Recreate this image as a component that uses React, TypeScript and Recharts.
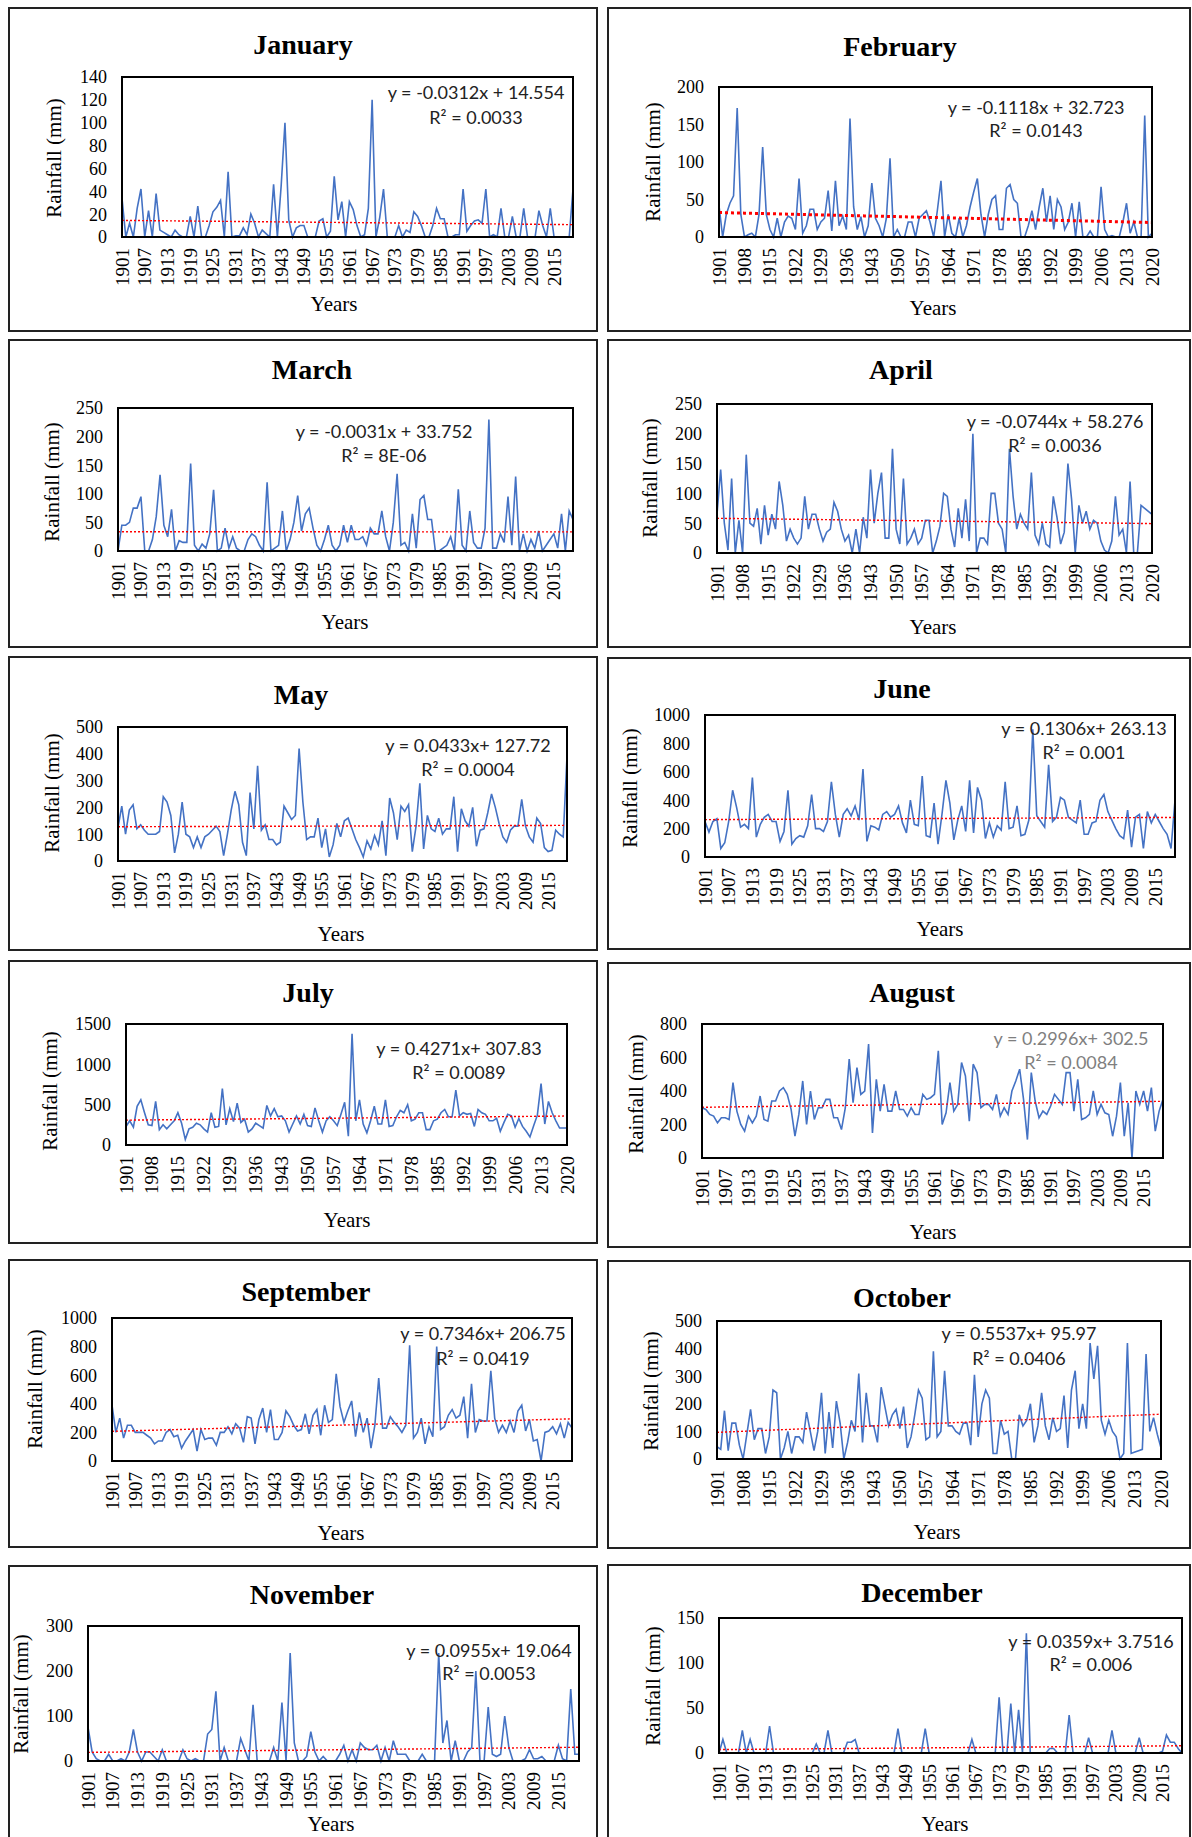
import { LineChart, Line, XAxis, YAxis } from "recharts";

const years = Array.from({ length: 120 }, (_, i) => 1901 + i);

const ticksBy6 = [1901, 1907, 1913, 1919, 1925, 1931, 1937, 1943, 1949, 1955, 1961, 1967, 1973, 1979, 1985, 1991, 1997, 2003, 2009, 2015];
const ticksBy7 = [1901, 1908, 1915, 1922, 1929, 1936, 1943, 1950, 1957, 1964, 1971, 1978, 1985, 1992, 1999, 2006, 2013, 2020];

const january = [
  34, 0, 12, 0, 25, 42, 0, 23, 0, 38,
  6, 4, 2, 0, 6, 2, 0, 0, 18, 0,
  27, 0, 0, 10, 22, 26, 32, 0, 57, 0,
  1, 1, 8, 2, 20, 12, 0, 6, 3, 0,
  46, 0, 45, 100, 15, 0, 8, 10, 10, 0,
  0, 0, 14, 16, 0, 5, 53, 15, 31, 0,
  31, 24, 10, 0, 2, 25, 120, 0, 17, 42,
  0, 0, 0, 10, 0, 6, 4, 22, 18, 10,
  0, 0, 10, 25, 16, 16, 0, 0, 2, 2,
  42, 5, 10, 14, 15, 12, 42, 0, 2, 0,
  25, 0, 0, 18, 0, 0, 25, 0, 0, 0,
  23, 10, 0, 25, 0, 0, 0, 0, 0, 42,
];
const february = [
  42, 0, 30, 45, 55, 172, 30, 0, 3, 5,
  0, 30, 120, 30, 10, 0, 25, 0, 20, 28,
  25, 10, 78, 5, 15, 37, 37, 10, 20, 25,
  62, 8, 75, 15, 28, 10, 158, 40, 10, 27,
  0, 15, 72, 25, 15, 0, 25, 105, 0, 10,
  0, 0, 20, 20, 0, 25, 30, 35, 20, 0,
  35, 75, 0, 30, 5, 0, 25, 0, 15, 40,
  60, 78, 30, 0, 30, 50, 55, 10, 10, 65,
  70, 50, 45, 0, 0, 15, 35, 10, 40, 65,
  20, 55, 10, 50, 40, 10, 20, 45, 0, 47,
  0, 0, 8, 0, 0, 67, 10, 0, 2, 0,
  0, 20, 45, 5, 20, 0, 0, 162, 0, 5,
];
const march = [
  0, 45, 45, 50, 75, 75, 95, 0, 0, 20,
  60, 133, 45, 25, 73, 0, 18, 15, 15, 153,
  10, 0, 12, 5, 30, 107, 0, 5, 40, 5,
  25, 5, 0, 0, 20, 30, 25, 10, 0, 120,
  0, 5, 10, 70, 0, 20, 50, 97, 35, 65,
  75, 40, 10, 0, 20, 45, 10, 0, 10, 45,
  15, 45, 20, 20, 25, 10, 40, 30, 30, 70,
  25, 0, 50, 135, 10, 15, 0, 65, 5, 90,
  97, 55, 55, 0, 0, 5, 10, 25, 0, 108,
  10, 0, 70, 15, 5, 5, 40, 230, 5, 5,
  30, 15, 95, 10, 130, 0, 30, 0, 20, 5,
  35, 0, 10, 20, 30, 5, 65, 0, 70, 55,
];
const april = [
  65, 140, 50, 5, 125, 0, 55, 0, 165, 50,
  45, 75, 15, 80, 30, 65, 40, 120, 80, 20,
  40, 25, 15, 25, 95, 40, 65, 65, 40, 20,
  35, 40, 85, 70, 40, 20, 30, 0, 40, 0,
  60, 25, 140, 50, 100, 135, 25, 25, 175, 40,
  15, 125, 15, 25, 40, 15, 25, 55, 55, 0,
  20, 45, 100, 95, 40, 10, 75, 25, 90, 20,
  200, 0, 25, 25, 15, 100, 100, 50, 40, 0,
  175, 95, 40, 65, 50, 40, 135, 30, 15, 50,
  15, 10, 95, 60, 15, 35, 150, 90, 0, 80,
  50, 70, 40, 55, 50, 20, 5, 0, 20, 95,
  30, 40, 0, 120, 0, 0, 80, 75, 70, 65,
];
const may = [
  125, 205, 100, 190, 210, 120, 135, 115, 100, 100,
  100, 110, 240, 220, 170, 30, 100, 220, 100, 90,
  50, 90, 50, 90, 100, 115, 130, 110, 20, 100,
  190, 260, 210, 70, 20, 255, 120, 355, 115, 135,
  80, 80, 60, 70, 205, 180, 155, 170, 420, 220,
  80, 90, 90, 160, 50, 120, 15, 60, 140, 90,
  150, 160, 120, 80, 50, 15, 75, 45, 95, 60,
  150, 20, 235, 180, 80, 205, 185, 210, 35, 130,
  290, 45, 170, 120, 110, 160, 100, 120, 120, 240,
  35, 195, 150, 130, 200, 55, 115, 120, 180, 250,
  200, 140, 90, 70, 115, 130, 130, 230, 130, 90,
  70, 160, 140, 50, 35, 40, 115, 100, 90, 390,
];
const june = [
  250, 175, 250, 270, 60, 100, 250, 470, 350, 210,
  230, 200, 560, 140, 230, 280, 300, 250, 250, 110,
  180, 470, 90, 130, 150, 140, 220, 440, 200, 200,
  180, 250, 530, 300, 140, 300, 340, 290, 360, 260,
  620, 110, 220, 210, 190, 300, 320, 280, 300, 360,
  240, 170, 400, 230, 220, 570, 150, 140, 380, 90,
  300, 540, 380, 120, 260, 360, 180, 540, 170, 490,
  400, 130, 240, 140, 220, 190, 530, 200, 210, 360,
  150, 160, 260, 900, 290, 250, 210, 650, 250, 280,
  420, 400, 280, 260, 240, 400, 160, 160, 240, 250,
  400, 440, 320, 260, 200, 150, 130, 330, 70, 280,
  300, 60, 320, 240, 300, 250, 200, 160, 60, 400,
];
const july = [
  230, 300, 220, 480, 560, 400, 250, 240, 540, 190,
  250, 200, 250, 300, 400, 270, 70, 200, 220, 270,
  250, 200, 160, 400, 220, 230, 700, 250, 450, 290,
  520, 280, 320, 160, 200, 270, 240, 210, 490, 360,
  450, 350, 360, 300, 160, 260, 360, 260, 380, 240,
  230, 460, 300, 160, 300, 350, 300, 240, 380, 530,
  110, 1380, 300, 560, 260, 150, 300, 480, 260, 260,
  560, 230, 240, 350, 430, 400, 500, 300, 320, 400,
  400, 190, 190, 300, 320, 400, 440, 350, 350, 680,
  360, 400, 380, 390, 230, 440, 400, 380, 300, 300,
  330, 170, 280, 380, 360, 220, 330, 230, 170, 100,
  240, 370, 760, 260, 540, 400, 300, 210, 210, 210,
];
const august = [
  300, 290, 260, 250, 210, 240, 240, 230, 450, 280,
  200, 160, 250, 210, 250, 370, 230, 220, 340, 340,
  400, 420, 380, 290, 130, 260, 460, 200, 400, 230,
  300, 300, 350, 350, 240, 240, 170, 300, 590, 330,
  540, 380, 400, 680, 150, 470, 280, 440, 280, 280,
  400, 290, 290, 250, 300, 260, 260, 380, 350, 360,
  380, 640, 200, 270, 450, 280, 320, 570, 490, 220,
  560, 510, 300, 320, 320, 290, 380, 250, 300, 260,
  400, 460, 530, 350, 110, 510, 340, 240, 280, 260,
  310, 380, 350, 320, 510, 510, 280, 470, 230, 240,
  260, 400, 260, 320, 270, 260, 130, 250, 450, 130,
  330, 0, 400, 320, 400, 280, 420, 160, 280, 350,
];
const september = [
  390, 200, 300, 160, 250, 250, 200, 200, 200, 180,
  160, 120, 140, 140, 200, 220, 170, 180, 90, 140,
  180, 220, 70, 220, 150, 160, 160, 110, 200, 200,
  240, 190, 260, 230, 130, 310, 300, 120, 290, 370,
  200, 360, 150, 150, 200, 350, 310, 250, 210, 220,
  330, 190, 320, 360, 180, 390, 270, 290, 610, 380,
  270, 350, 420, 170, 340, 200, 300, 90, 250, 580,
  230, 230, 310, 270, 240, 200, 250, 810, 160, 200,
  300, 120, 240, 170, 800, 220, 240, 320, 360, 300,
  320, 450, 160, 540, 200, 290, 280, 280, 630, 300,
  200, 250, 200, 280, 200, 350, 390, 210, 290, 140,
  150, 0, 200, 210, 240, 190, 260, 160, 270, 230,
];
const october = [
  45, 35, 175, 30, 130, 130, 50, 0, 90, 180,
  70, 110, 110, 20, 80, 250, 240, 0, 40, 100,
  20, 80, 80, 60, 170, 100, 30, 100, 240, 20,
  170, 40, 210, 130, 0, 60, 140, 100, 310, 60,
  240, 120, 120, 60, 260, 190, 120, 160, 180, 110,
  190, 40, 80, 160, 250, 220, 70, 80, 390, 80,
  100, 320, 120, 120, 100, 90, 130, 130, 50, 305,
  80, 200, 250, 220, 20, 20, 140, 90, 100, 0,
  0, 160, 120, 140, 200, 60, 120, 240, 120, 70,
  150, 100, 110, 230, 40, 250, 320, 110, 200, 110,
  420, 290, 410, 140, 90, 140, 100, 80, 0, 20,
  420, 20, 25, 30, 35, 380, 100, 150, 90, 40,
];
const november = [
  75, 20, 5, 0, 0, 15, 0, 0, 5, 0,
  20, 70, 20, 0, 20, 20, 10, 0, 25, 0,
  0, 0, 0, 25, 5, 0, 5, 0, 0, 60,
  70, 155, 0, 30, 0, 0, 0, 50, 25, 0,
  125, 0, 0, 0, 0, 30, 0, 130, 0, 240,
  40, 0, 0, 10, 65, 20, 0, 10, 0, 0,
  0, 15, 35, 0, 25, 0, 40, 30, 25, 25,
  35, 0, 30, 0, 45, 15, 15, 15, 0, 0,
  0, 15, 0, 0, 0, 240, 40, 90, 0, 45,
  0, 0, 20, 30, 200, 0, 0, 120, 15, 10,
  15, 100, 30, 0, 0, 0, 5, 25, 5, 5,
  10, 0, 0, 0, 35, 5, 0, 160, 15, 15,
];
const december = [
  0, 15, 0, 0, 0, 0, 25, 0, 15, 0,
  0, 0, 0, 30, 0, 0, 0, 0, 0, 0,
  0, 0, 0, 0, 0, 10, 0, 0, 25, 0,
  0, 0, 0, 12, 12, 15, 0, 0, 0, 0,
  0, 0, 0, 0, 0, 0, 27, 0, 0, 0,
  0, 0, 0, 27, 0, 0, 0, 0, 0, 0,
  0, 0, 0, 0, 0, 15, 0, 0, 0, 0,
  0, 0, 62, 0, 0, 55, 0, 48, 0, 133,
  0, 0, 0, 0, 0, 5, 5, 0, 0, 0,
  42, 0, 0, 0, 0, 17, 0, 0, 0, 0,
  0, 25, 0, 0, 0, 0, 0, 0, 17, 0,
  0, 0, 0, 0, 2, 20, 12, 12, 5, 0,
];

// trendline coefficients as printed on each chart (x = 1..120)
const slopes = [-0.0312, -0.1118, -0.0031, -0.0744, 0.0433, 0.1306, 0.4271, 0.2996, 0.7346, 0.5537, 0.0955, 0.0359];
const intercepts = [14.554, 32.723, 33.752, 58.276, 127.72, 263.13, 307.83, 302.5, 206.75, 95.97, 19.064, 3.7516];
const equations = [
  "y = -0.0312x + 14.554", "y = -0.1118x + 32.723", "y = -0.0031x + 33.752", "y = -0.0744x + 58.276",
  "y = 0.0433x+ 127.72", "y = 0.1306x+ 263.13", "y = 0.4271x+ 307.83", "y = 0.2996x+ 302.5",
  "y = 0.7346x+ 206.75", "y = 0.5537x+ 95.97", "y = 0.0955x+ 19.064", "y = 0.0359x+ 3.7516",
];
const rSquared = ["R² = 0.0033", "R² = 0.0143", "R² = 8E-06", "R² = 0.0036", "R² = 0.0004", "R² = 0.001", "R² = 0.0089", "R² = 0.0084", "R² = 0.0419", "R² = 0.0406", "R² = 0.0053", "R² = 0.006"];

const months = ["January", "February", "March", "April", "May", "June", "July", "August", "September", "October", "November", "December"];
const series = [january, february, march, april, may, june, july, august, september, october, november, december];
const yTicks = [
  [0, 20, 40, 60, 80, 100, 120, 140],
  [0, 50, 100, 150, 200],
  [0, 50, 100, 150, 200, 250],
  [0, 50, 100, 150, 200, 250],
  [0, 100, 200, 300, 400, 500],
  [0, 200, 400, 600, 800, 1000],
  [0, 500, 1000, 1500],
  [0, 200, 400, 600, 800],
  [0, 200, 400, 600, 800, 1000],
  [0, 100, 200, 300, 400, 500],
  [0, 100, 200, 300],
  [0, 50, 100, 150],
];
const xTicks = [ticksBy6, ticksBy7, ticksBy6, ticksBy7, ticksBy6, ticksBy6, ticksBy7, ticksBy6, ticksBy6, ticksBy7, ticksBy6, ticksBy6];

// layout: box [l,t,w,h], plot [l,t,w,h], title [cx,cy], years [cx,cy], rain [cx,cy], eq [cx,y1,y2]
const layout = [
  { box: [8, 7, 590, 325], plot: [122, 77, 451, 160], title: [303, 45], years: [334, 304], rain: [54, 158], eq: [476, 92, 117] },
  { box: [607, 7, 584, 325], plot: [719, 87, 433, 150], title: [900, 47], years: [933, 308], rain: [653, 162], eq: [1036, 107, 130] },
  { box: [8, 339, 590, 309], plot: [118, 408, 455, 143], title: [312, 370], years: [345, 622], rain: [52, 482], eq: [384, 431, 455] },
  { box: [607, 339, 584, 309], plot: [717, 404, 435, 149], title: [901, 370], years: [933, 627], rain: [650, 478], eq: [1055, 421, 445] },
  { box: [8, 656, 590, 295], plot: [118, 727, 449, 134], title: [301, 695], years: [341, 934], rain: [52, 793], eq: [468, 745, 769] },
  { box: [607, 657, 584, 293], plot: [705, 715, 470, 142], title: [902, 689], years: [940, 929], rain: [630, 788], eq: [1084, 728, 752] },
  { box: [8, 960, 590, 284], plot: [126, 1024, 441, 121], title: [308, 993], years: [347, 1220], rain: [50, 1091], eq: [459, 1048, 1072] },
  { box: [607, 962, 584, 286], plot: [702, 1024, 461, 134], title: [912, 993], years: [933, 1232], rain: [636, 1094], eq: [1071, 1038, 1062] },
  { box: [8, 1259, 590, 289], plot: [112, 1318, 460, 143], title: [306, 1292], years: [341, 1533], rain: [35, 1389], eq: [483, 1333, 1358] },
  { box: [607, 1260, 584, 289], plot: [717, 1321, 444, 138], title: [902, 1298], years: [937, 1532], rain: [651, 1391], eq: [1019, 1333, 1358] },
  { box: [8, 1565, 590, 300], plot: [88, 1626, 491, 135], title: [312, 1595], years: [331, 1824], rain: [21, 1694], eq: [489, 1650, 1673] },
  { box: [607, 1564, 584, 300], plot: [719, 1618, 463, 135], title: [922, 1593], years: [945, 1824], rain: [653, 1686], eq: [1091, 1641, 1664] },
];

const serif = "'Liberation Serif', 'Times New Roman', serif";
const sans = "Lato, 'Open Sans', sans-serif";

const YearTick = (props: any) => {
  const { x, y, payload } = props;
  return (
    <text x={x} y={y} transform={`rotate(-90, ${x}, ${y})`} textAnchor="end" dominantBaseline="central"
      fontFamily={serif} fontSize={19} fill="#000">
      {payload.value}
    </text>
  );
};

const centered = (cx: number, cy: number) => ({
  position: "absolute" as const,
  left: cx,
  top: cy,
  transform: "translate(-50%, -50%)",
  whiteSpace: "nowrap" as const,
  lineHeight: 1,
});

const ML = 80, MT = 10, MR = 10, MB = 80;

const Panel = ({ idx }: { idx: number }) => {
  const l = layout[idx];
  const ticks = yTicks[idx];
  const data = years.map((year, i) => ({
    year,
    value: series[idx][i],
    trend: slopes[idx] * (i + 1) + intercepts[idx],
  }));
  const [px, py, pw, ph] = l.plot;
  const eqColor = idx === 7 ? "#7f7f7f" : "#222";
  return (
    <>
      <div style={{ position: "absolute", left: l.box[0], top: l.box[1], width: l.box[2], height: l.box[3], border: "2px solid #222", boxSizing: "border-box" }} />
      <div style={{ ...centered(l.title[0], l.title[1]), fontFamily: serif, fontWeight: "bold", fontSize: 28, color: "#000" }}>{months[idx]}</div>
      <div style={{ ...centered(l.rain[0], l.rain[1]), transform: "translate(-50%, -50%) rotate(-90deg)", fontFamily: serif, fontSize: 21, color: "#000" }}>Rainfall (mm)</div>
      <div style={{ ...centered(l.years[0], l.years[1]), fontFamily: serif, fontSize: 21, color: "#000" }}>Years</div>
      <div style={{ position: "absolute", left: px - ML, top: py - MT }}>
        <LineChart width={pw + ML + MR} height={ph + MT + MB} data={data} margin={{ top: MT, right: MR, left: 0, bottom: 0 }}>
          <XAxis dataKey="year" type="number" domain={[1901, 2020]} ticks={xTicks[idx]} interval={0}
            tickLine={false} axisLine={false} tickSize={0} tickMargin={11} height={MB} tick={(p: any) => <YearTick {...p} />} />
          <YAxis type="number" domain={[0, ticks[ticks.length - 1]]} ticks={ticks} interval={0} width={ML}
            tickLine={false} axisLine={false} tickSize={0} tickMargin={15}
            tick={{ fontFamily: serif, fontSize: 18, fill: "#000" }} />
          <Line dataKey="value" type="linear" stroke="#4472C4" strokeWidth={1.6} dot={false} isAnimationActive={false} />
          <Line dataKey="trend" type="linear" stroke="#FF0000" strokeWidth={idx === 1 ? 3 : 1.4}
            strokeDasharray={idx === 1 ? "3 3" : "2 2"} dot={false} isAnimationActive={false} />
        </LineChart>
      </div>
      <div style={{ position: "absolute", left: px - 1, top: py - 1, width: pw + 2, height: ph + 2, border: "2px solid #000", boxSizing: "border-box", pointerEvents: "none" }} />
      <div style={{ ...centered(l.eq[0], l.eq[1]), fontFamily: sans, fontSize: 18, color: eqColor }}>{equations[idx]}</div>
      <div style={{ ...centered(l.eq[0], l.eq[2]), fontFamily: sans, fontSize: 18, color: eqColor }}>{rSquared[idx]}</div>
    </>
  );
};

export default function App() {
  return (
    <div style={{ position: "absolute", left: 0, top: 0, width: 1192, height: 1837, background: "#fff", overflow: "hidden" }}>
      {months.map((m, i) => (
        <Panel key={m} idx={i} />
      ))}
    </div>
  );
}
